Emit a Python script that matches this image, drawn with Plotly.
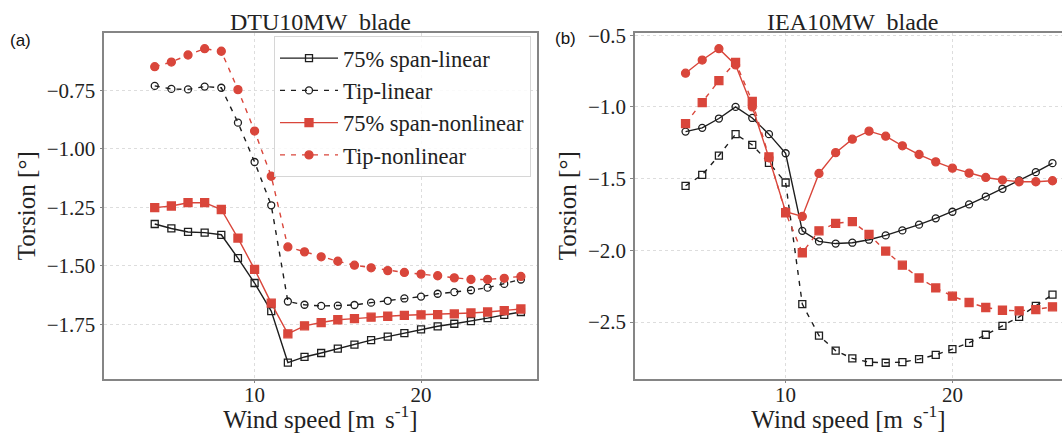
import plotly.graph_objects as go

# ---------------- data ----------------
wind = list(range(4, 27))

# DTU10MW blade
dtu_span_lin = [-1.321, -1.340, -1.355, -1.358, -1.367, -1.467, -1.573, -1.693, -1.913, -1.889, -1.872, -1.853,
                -1.836, -1.817, -1.802, -1.787, -1.771, -1.758, -1.747, -1.736, -1.723, -1.709, -1.697]
dtu_tip_lin = [-0.731, -0.744, -0.746, -0.734, -0.739, -0.888, -1.056, -1.241, -1.652, -1.666, -1.671, -1.670,
               -1.667, -1.657, -1.649, -1.639, -1.631, -1.619, -1.612, -1.604, -1.593, -1.577, -1.558]
dtu_span_nl = [-1.251, -1.244, -1.230, -1.230, -1.259, -1.381, -1.515, -1.659, -1.790, -1.756, -1.742, -1.730,
               -1.725, -1.719, -1.715, -1.711, -1.709, -1.708, -1.705, -1.701, -1.697, -1.691, -1.684]
dtu_tip_nl = [-0.649, -0.629, -0.599, -0.572, -0.583, -0.747, -0.924, -1.117, -1.419, -1.440, -1.461, -1.480,
              -1.497, -1.508, -1.520, -1.528, -1.535, -1.542, -1.551, -1.558, -1.558, -1.553, -1.545]

# IEA10MW blade
iea_circ_black = [-1.172, -1.146, -1.081, -1.000, -1.077, -1.190, -1.323, -1.864, -1.938, -1.953, -1.947, -1.926,
                  -1.896, -1.861, -1.821, -1.777, -1.731, -1.680, -1.626, -1.571, -1.513, -1.455, -1.392]
iea_sq_black = [-1.550, -1.474, -1.339, -1.190, -1.265, -1.390, -1.527, -2.375, -2.595, -2.700, -2.754, -2.780,
                -2.784, -2.780, -2.759, -2.729, -2.689, -2.645, -2.589, -2.527, -2.464, -2.387, -2.309]
iea_circ_red = [-0.765, -0.673, -0.594, -0.707, -1.000, -1.355, -1.731, -1.764, -1.464, -1.319, -1.225, -1.169,
                -1.204, -1.271, -1.332, -1.383, -1.427, -1.462, -1.492, -1.510, -1.522, -1.522, -1.515]
iea_sq_red = [-1.116, -0.970, -0.817, -0.689, -0.961, -1.348, -1.738, -2.017, -1.864, -1.812, -1.800, -1.889,
              -2.005, -2.104, -2.193, -2.262, -2.320, -2.364, -2.399, -2.418, -2.422, -2.413, -2.394]

legend_names = ["75% span-linear", "Tip-linear", "75% span-nonlinear", "Tip-nonlinear"]
titles = ["DTU10MW  blade", "IEA10MW  blade"]
panel_labels = ["(a)", "(b)"]
x_title = "Wind speed [m\u2009\u2009s<sup>-1</sup>]"
y_title = "Torsion [°]"

x_ticks = [10, 20]
y_ticks_a = [-0.75, -1.00, -1.25, -1.50, -1.75]
y_ticks_b = [-0.5, -1.0, -1.5, -2.0, -2.5]

# ---------------- styles ----------------
BLACK = "#1e1e1e"
RED = "#d9463b"
SERIF = "Liberation Serif, Times New Roman, serif"
SANS = "Liberation Sans, Arial, sans-serif"
DASH = "5px,6px"

fig = go.Figure()


def add(x, y, color, dash, symbol, size, name, xa, ya, show):
    fig.add_trace(go.Scatter(
        x=x, y=y, mode="lines+markers", name=name, showlegend=show,
        xaxis=xa, yaxis=ya,
        line=dict(color=color, width=1.4, dash=dash),
        marker=dict(symbol=symbol, size=size, color=color,
                    line=dict(color=color, width=1.3)),
    ))


# panel (a)
add(wind, dtu_span_lin, BLACK, "solid", "square-open", 7, legend_names[0], "x", "y", True)
add(wind, dtu_tip_lin, BLACK, DASH, "circle-open", 7, legend_names[1], "x", "y", True)
add(wind, dtu_span_nl, RED, "solid", "square", 8, legend_names[2], "x", "y", True)
add(wind, dtu_tip_nl, RED, DASH, "circle", 8, legend_names[3], "x", "y", True)

# panel (b)
add(wind, iea_circ_black, BLACK, "solid", "circle-open", 7, legend_names[1], "x2", "y2", False)
add(wind, iea_sq_black, BLACK, DASH, "square-open", 7, legend_names[0], "x2", "y2", False)
add(wind, iea_sq_red, RED, DASH, "square", 8, legend_names[2], "x2", "y2", False)
add(wind, iea_circ_red, RED, "solid", "circle", 8, legend_names[3], "x2", "y2", False)

W, H = 1062, 433
top_px, bot_px = 33, 378.5
ydom = [(H - bot_px) / H, (H - top_px) / H]

axis_common = dict(
    showgrid=True, gridcolor="#dddddd", griddash="dot", gridwidth=1,
    zeroline=False, showline=True, linecolor="#858585", linewidth=1.5,
    ticks="outside", ticklen=3, tickcolor="#858585",
    tickfont=dict(family=SERIF, size=21, color="#222"),
    automargin=False,
)
xtitle_font = dict(family=SERIF, size=25, color="#222")

fig.update_layout(
    width=W, height=H,
    margin=dict(l=0, r=0, t=0, b=0),
    paper_bgcolor="white", plot_bgcolor="white",
    showlegend=True,
    xaxis=dict(axis_common, domain=[104.3 / W, 536.7 / W], range=[0.97, 26.95], anchor="y",
               mirror=True, tickvals=x_ticks, ticklabelstandoff=-6,
               title=dict(text=x_title, font=xtitle_font, standoff=8)),
    yaxis=dict(axis_common, domain=ydom, range=[-1.981, -0.505], anchor="x", mirror=True,
               tickvals=y_ticks_a, tickformat=".2f",
               title=dict(text=y_title, font=xtitle_font, standoff=4)),
    xaxis2=dict(axis_common, domain=[635.0 / W, 1.0], range=[0.97, 26.57], anchor="y2",
                mirror=True, tickvals=x_ticks, ticklabelstandoff=-6,
                title=dict(text=x_title, font=xtitle_font, standoff=8)),
    yaxis2=dict(axis_common, domain=ydom, range=[-2.894, -0.4845], anchor="x2", mirror=False,
                tickvals=y_ticks_b, tickformat=".1f",
                title=dict(text=y_title, font=xtitle_font, standoff=4)),
    legend=dict(
        x=274 / W, y=(H - 36) / H, xanchor="left", yanchor="top",
        bgcolor="rgba(255,255,255,0.85)", bordercolor="#d6d6d6", borderwidth=1,
        font=dict(family=SERIF, size=22.5, color="#222"),
        itemwidth=58, tracegroupgap=0,
    ),
)

# titles and panel labels
fig.add_annotation(text=titles[0], x=(104.3 + 536.7) / 2 / W, y=(H - 22) / H, xref="paper", yref="paper",
                   showarrow=False, xanchor="center", yanchor="middle",
                   font=dict(family=SERIF, size=24, color="#222"))
fig.add_annotation(text=titles[1], x=853 / W, y=(H - 22) / H, xref="paper", yref="paper",
                   showarrow=False, xanchor="center", yanchor="middle",
                   font=dict(family=SERIF, size=24, color="#222"))
fig.add_annotation(text=panel_labels[0], x=8 / W, y=(H - 40) / H, xref="paper", yref="paper",
                   showarrow=False, xanchor="left", yanchor="middle",
                   font=dict(family=SANS, size=17, color="#111"))
fig.add_annotation(text=panel_labels[1], x=553 / W, y=(H - 39) / H, xref="paper", yref="paper",
                   showarrow=False, xanchor="left", yanchor="middle",
                   font=dict(family=SANS, size=17, color="#111"))

fig.write_html("out.html", config={"displayModeBar": False},
               post_script="document.body.style.margin='0px';document.body.style.overflow='hidden';")
